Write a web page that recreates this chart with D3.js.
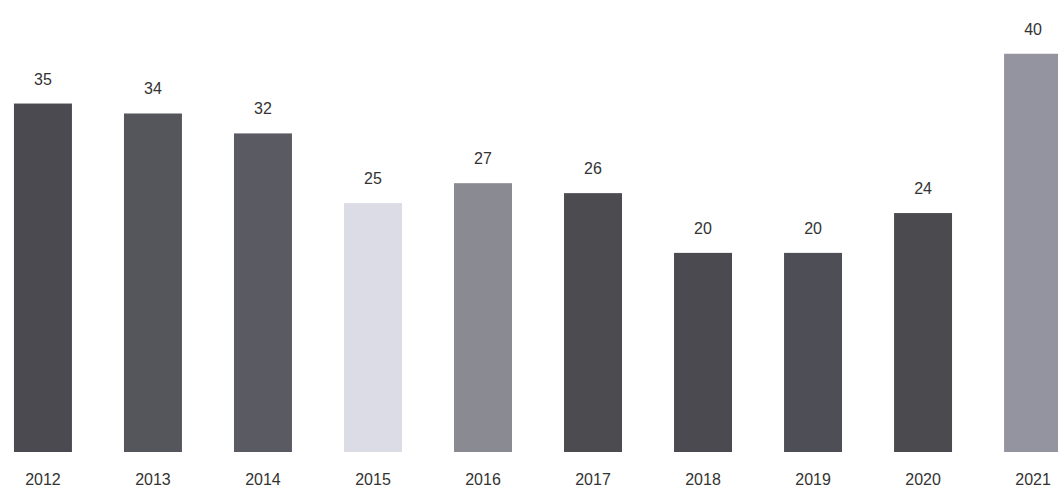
<!DOCTYPE html>
<html><head><meta charset="utf-8">
<script src="https://cdn.jsdelivr.net/npm/d3@7"></script>
<style>body{margin:0;background:#fff}svg{display:block}</style>
</head><body>
<script>
const years = ["2012","2013","2014","2015","2016","2017","2018","2019","2020","2021"];
const values = [35,34,32,25,27,26,20,20,24,40];
const colors = ["#4a4a50","#55555c","#5a5a62","#dcdce6","#8a8a92","#4b4b50","#4a4a50","#4e4e56","#4a4a4f","#9494a0"];

const W=1058,H=490;
const svg=d3.select("body").append("svg").attr("width",W).attr("height",H);
const x=d3.scaleBand().domain(years).range([-12,1088]).paddingInner(0.473).paddingOuter(0.236);
const y=d3.scaleLinear().domain([0,45.4]).range([452,0]);

svg.selectAll("rect.bar").data(years).join("rect")
  .attr("x",d=>x(d)).attr("width",x.bandwidth())
  .attr("y",(d,i)=>y(values[i])).attr("height",(d,i)=>y(0)-y(values[i]))
  .attr("fill",(d,i)=>colors[i]);

svg.selectAll("text.val").data(years).join("text")
  .attr("x",d=>x(d)+x.bandwidth()/2).attr("y",(d,i)=>y(values[i])-19)
  .attr("text-anchor","middle").attr("font-family","Liberation Sans, Arial, sans-serif")
  .attr("font-size",16).attr("fill","#333").text((d,i)=>values[i]);

const axis=d3.axisBottom(x).tickSize(0).tickPadding(0);
const g=svg.append("g").attr("transform","translate(0,474)").call(axis);
g.select(".domain").remove();
g.selectAll("text").attr("font-family","Liberation Sans, Arial, sans-serif").attr("font-size",16).attr("fill","#333").attr("dy","0.71em");
</script>
</body></html>
